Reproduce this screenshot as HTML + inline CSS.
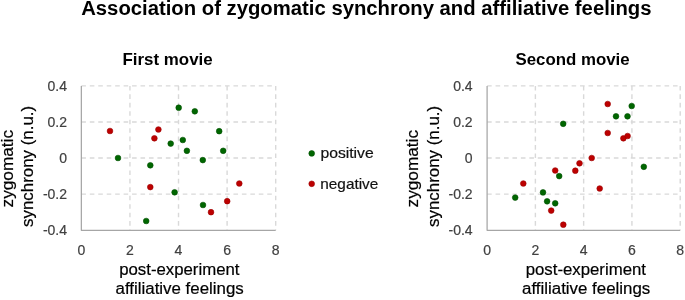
<!DOCTYPE html>
<html><head><meta charset="utf-8"><style>
html,body{margin:0;padding:0;background:#fff;}
body{width:685px;height:300px;overflow:hidden;}
svg{display:block;will-change:transform;}
text{font-family:"Liberation Sans",sans-serif;}
.title{font-size:19.5px;font-weight:bold;fill:#000;}
.sub{font-size:16.5px;font-weight:bold;fill:#000;}
.tk{font-size:14px;fill:#404040;stroke:#404040;stroke-width:0.2px;}
.at{font-size:16px;fill:#000;stroke:#000;stroke-width:0.2px;}
.lg{font-size:15px;fill:#111;stroke:#111;stroke-width:0.2px;}
</style></head><body>
<svg width="685" height="300" viewBox="0 0 685 300">
<text x="81.2" y="14.6" class="title" textLength="570.3" lengthAdjust="spacingAndGlyphs">Association of zygomatic synchrony and affiliative feelings</text>
<text x="122.5" y="64.6" class="sub" textLength="90.2" lengthAdjust="spacingAndGlyphs">First movie</text>
<text x="515.4" y="64.6" class="sub" textLength="114.3" lengthAdjust="spacingAndGlyphs">Second movie</text>
<line x1="81.35" y1="85.90" x2="275.70" y2="85.90" stroke="#d9d9d9" stroke-width="1.4" stroke-dasharray="4.6 3.85"/>
<line x1="81.35" y1="122.00" x2="275.70" y2="122.00" stroke="#d9d9d9" stroke-width="1.4" stroke-dasharray="4.6 3.85"/>
<line x1="81.35" y1="158.05" x2="275.70" y2="158.05" stroke="#d9d9d9" stroke-width="1.4" stroke-dasharray="4.6 3.85"/>
<line x1="81.35" y1="194.10" x2="275.70" y2="194.10" stroke="#d9d9d9" stroke-width="1.4" stroke-dasharray="4.6 3.85"/>
<line x1="129.94" y1="85.90" x2="129.94" y2="230.25" stroke="#d9d9d9" stroke-width="1.4" stroke-dasharray="4.6 3.85"/>
<line x1="178.52" y1="85.90" x2="178.52" y2="230.25" stroke="#d9d9d9" stroke-width="1.4" stroke-dasharray="4.6 3.85"/>
<line x1="227.11" y1="85.90" x2="227.11" y2="230.25" stroke="#d9d9d9" stroke-width="1.4" stroke-dasharray="4.6 3.85"/>
<line x1="275.70" y1="85.90" x2="275.70" y2="230.25" stroke="#d9d9d9" stroke-width="1.4" stroke-dasharray="4.6 3.85"/>
<path d="M81.35 85.90 V230.25 H275.70" fill="none" stroke="#a6a6a6" stroke-width="1.25" stroke-linejoin="round"/>
<text x="67.00" y="90.90" class="tk" text-anchor="end">0.4</text>
<text x="67.00" y="127.00" class="tk" text-anchor="end">0.2</text>
<text x="67.00" y="163.05" class="tk" text-anchor="end">0</text>
<text x="67.00" y="199.10" class="tk" text-anchor="end">-0.2</text>
<text x="67.00" y="235.25" class="tk" text-anchor="end">-0.4</text>
<text x="81.35" y="254.7" class="tk" text-anchor="middle">0</text>
<text x="129.94" y="254.7" class="tk" text-anchor="middle">2</text>
<text x="178.52" y="254.7" class="tk" text-anchor="middle">4</text>
<text x="227.11" y="254.7" class="tk" text-anchor="middle">6</text>
<text x="275.70" y="254.7" class="tk" text-anchor="middle">8</text>
<circle cx="118" cy="158" r="2.85" fill="#006600" stroke="#005000" stroke-width="0.6"/>
<circle cx="150.3" cy="165.3" r="2.85" fill="#006600" stroke="#005000" stroke-width="0.6"/>
<circle cx="178.7" cy="107.7" r="2.85" fill="#006600" stroke="#005000" stroke-width="0.6"/>
<circle cx="194.8" cy="111.3" r="2.85" fill="#006600" stroke="#005000" stroke-width="0.6"/>
<circle cx="170.7" cy="143.6" r="2.85" fill="#006600" stroke="#005000" stroke-width="0.6"/>
<circle cx="182.8" cy="140" r="2.85" fill="#006600" stroke="#005000" stroke-width="0.6"/>
<circle cx="186.9" cy="150.8" r="2.85" fill="#006600" stroke="#005000" stroke-width="0.6"/>
<circle cx="219.2" cy="131.2" r="2.85" fill="#006600" stroke="#005000" stroke-width="0.6"/>
<circle cx="223.2" cy="150.8" r="2.85" fill="#006600" stroke="#005000" stroke-width="0.6"/>
<circle cx="202.8" cy="160.1" r="2.85" fill="#006600" stroke="#005000" stroke-width="0.6"/>
<circle cx="174.6" cy="192.3" r="2.85" fill="#006600" stroke="#005000" stroke-width="0.6"/>
<circle cx="203" cy="205" r="2.85" fill="#006600" stroke="#005000" stroke-width="0.6"/>
<circle cx="146.2" cy="221" r="2.85" fill="#006600" stroke="#005000" stroke-width="0.6"/>
<circle cx="110" cy="131" r="2.85" fill="#bd0000" stroke="#9c0000" stroke-width="0.6"/>
<circle cx="158.4" cy="129.5" r="2.85" fill="#bd0000" stroke="#9c0000" stroke-width="0.6"/>
<circle cx="154.4" cy="138.3" r="2.85" fill="#bd0000" stroke="#9c0000" stroke-width="0.6"/>
<circle cx="150.3" cy="187.1" r="2.85" fill="#bd0000" stroke="#9c0000" stroke-width="0.6"/>
<circle cx="239.3" cy="183.5" r="2.85" fill="#bd0000" stroke="#9c0000" stroke-width="0.6"/>
<circle cx="227.2" cy="201.2" r="2.85" fill="#bd0000" stroke="#9c0000" stroke-width="0.6"/>
<circle cx="211" cy="212.2" r="2.85" fill="#bd0000" stroke="#9c0000" stroke-width="0.6"/>
<text x="119.20" y="274.7" class="at" textLength="120.3" lengthAdjust="spacingAndGlyphs">post-experiment</text>
<text x="115.60" y="293.9" class="at" textLength="128.1" lengthAdjust="spacingAndGlyphs">affiliative feelings</text>
<text transform="translate(13.20 207.4) rotate(-90)" class="at" textLength="77.4" lengthAdjust="spacingAndGlyphs">zygomatic</text>
<text transform="translate(33.30 226.9) rotate(-90)" class="at" textLength="121" lengthAdjust="spacingAndGlyphs">synchrony (n.u.)</text>
<line x1="487.10" y1="85.90" x2="680.20" y2="85.90" stroke="#d9d9d9" stroke-width="1.4" stroke-dasharray="4.6 3.85"/>
<line x1="487.10" y1="122.00" x2="680.20" y2="122.00" stroke="#d9d9d9" stroke-width="1.4" stroke-dasharray="4.6 3.85"/>
<line x1="487.10" y1="158.05" x2="680.20" y2="158.05" stroke="#d9d9d9" stroke-width="1.4" stroke-dasharray="4.6 3.85"/>
<line x1="487.10" y1="194.10" x2="680.20" y2="194.10" stroke="#d9d9d9" stroke-width="1.4" stroke-dasharray="4.6 3.85"/>
<line x1="535.38" y1="85.90" x2="535.38" y2="230.25" stroke="#d9d9d9" stroke-width="1.4" stroke-dasharray="4.6 3.85"/>
<line x1="583.65" y1="85.90" x2="583.65" y2="230.25" stroke="#d9d9d9" stroke-width="1.4" stroke-dasharray="4.6 3.85"/>
<line x1="631.93" y1="85.90" x2="631.93" y2="230.25" stroke="#d9d9d9" stroke-width="1.4" stroke-dasharray="4.6 3.85"/>
<line x1="680.20" y1="85.90" x2="680.20" y2="230.25" stroke="#d9d9d9" stroke-width="1.4" stroke-dasharray="4.6 3.85"/>
<path d="M487.10 85.90 V230.25 H680.20" fill="none" stroke="#a6a6a6" stroke-width="1.25" stroke-linejoin="round"/>
<text x="472.60" y="90.90" class="tk" text-anchor="end">0.4</text>
<text x="472.60" y="127.00" class="tk" text-anchor="end">0.2</text>
<text x="472.60" y="163.05" class="tk" text-anchor="end">0</text>
<text x="472.60" y="199.10" class="tk" text-anchor="end">-0.2</text>
<text x="472.60" y="235.25" class="tk" text-anchor="end">-0.4</text>
<text x="487.10" y="254.7" class="tk" text-anchor="middle">0</text>
<text x="535.38" y="254.7" class="tk" text-anchor="middle">2</text>
<text x="583.65" y="254.7" class="tk" text-anchor="middle">4</text>
<text x="631.93" y="254.7" class="tk" text-anchor="middle">6</text>
<text x="680.20" y="254.7" class="tk" text-anchor="middle">8</text>
<circle cx="563.2" cy="123.8" r="2.85" fill="#006600" stroke="#005000" stroke-width="0.6"/>
<circle cx="631.7" cy="106" r="2.85" fill="#006600" stroke="#005000" stroke-width="0.6"/>
<circle cx="616" cy="116.3" r="2.85" fill="#006600" stroke="#005000" stroke-width="0.6"/>
<circle cx="627.5" cy="116.3" r="2.85" fill="#006600" stroke="#005000" stroke-width="0.6"/>
<circle cx="643.8" cy="166.8" r="2.85" fill="#006600" stroke="#005000" stroke-width="0.6"/>
<circle cx="559.2" cy="176.1" r="2.85" fill="#006600" stroke="#005000" stroke-width="0.6"/>
<circle cx="543" cy="192.4" r="2.85" fill="#006600" stroke="#005000" stroke-width="0.6"/>
<circle cx="515.2" cy="197.6" r="2.85" fill="#006600" stroke="#005000" stroke-width="0.6"/>
<circle cx="547.1" cy="201.3" r="2.85" fill="#006600" stroke="#005000" stroke-width="0.6"/>
<circle cx="555.2" cy="203.3" r="2.85" fill="#006600" stroke="#005000" stroke-width="0.6"/>
<circle cx="607.7" cy="104" r="2.85" fill="#bd0000" stroke="#9c0000" stroke-width="0.6"/>
<circle cx="607.7" cy="133" r="2.85" fill="#bd0000" stroke="#9c0000" stroke-width="0.6"/>
<circle cx="623.4" cy="138.3" r="2.85" fill="#bd0000" stroke="#9c0000" stroke-width="0.6"/>
<circle cx="627.6" cy="136" r="2.85" fill="#bd0000" stroke="#9c0000" stroke-width="0.6"/>
<circle cx="555.2" cy="170.5" r="2.85" fill="#bd0000" stroke="#9c0000" stroke-width="0.6"/>
<circle cx="523.3" cy="183.5" r="2.85" fill="#bd0000" stroke="#9c0000" stroke-width="0.6"/>
<circle cx="591.7" cy="158" r="2.85" fill="#bd0000" stroke="#9c0000" stroke-width="0.6"/>
<circle cx="579.5" cy="163.3" r="2.85" fill="#bd0000" stroke="#9c0000" stroke-width="0.6"/>
<circle cx="575.3" cy="170.7" r="2.85" fill="#bd0000" stroke="#9c0000" stroke-width="0.6"/>
<circle cx="599.7" cy="188.5" r="2.85" fill="#bd0000" stroke="#9c0000" stroke-width="0.6"/>
<circle cx="551.2" cy="210.6" r="2.85" fill="#bd0000" stroke="#9c0000" stroke-width="0.6"/>
<circle cx="563.3" cy="224.7" r="2.85" fill="#bd0000" stroke="#9c0000" stroke-width="0.6"/>
<text x="525.70" y="274.7" class="at" textLength="120.3" lengthAdjust="spacingAndGlyphs">post-experiment</text>
<text x="522.10" y="293.9" class="at" textLength="128.1" lengthAdjust="spacingAndGlyphs">affiliative feelings</text>
<text transform="translate(418.40 207.4) rotate(-90)" class="at" textLength="77.4" lengthAdjust="spacingAndGlyphs">zygomatic</text>
<text transform="translate(438.50 226.9) rotate(-90)" class="at" textLength="121" lengthAdjust="spacingAndGlyphs">synchrony (n.u.)</text>
<circle cx="311.7" cy="153.4" r="2.85" fill="#006600" stroke="#005000" stroke-width="0.6"/>
<circle cx="311.7" cy="183.8" r="2.85" fill="#bd0000" stroke="#9c0000" stroke-width="0.6"/>
<text x="320.4" y="157.6" class="lg" textLength="53.3" lengthAdjust="spacingAndGlyphs">positive</text>
<text x="320.3" y="188.6" class="lg" textLength="58" lengthAdjust="spacingAndGlyphs">negative</text>
</svg>
</body></html>
